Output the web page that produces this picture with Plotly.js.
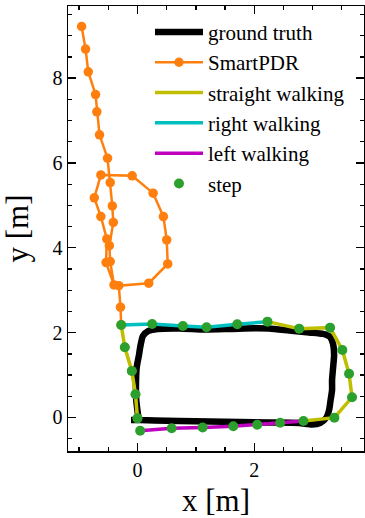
<!DOCTYPE html>
<html>
<head>
<meta charset="utf-8">
<script src="https://cdn.plot.ly/plotly-3.0.1.min.js"></script>
<style>html,body{margin:0;padding:0;background:#fff;}#chart{width:365px;height:518px;}</style>
</head>
<body>
<div id="chart"></div>
<script>
// Ground truth trajectory (m)
var gtX = [0.017, -0.021, -0.026, -0.012, 0.026, 0.051, 0.094, 0.188, 0.342, 0.718, 1.145, 1.573, 2.000, 2.256, 2.598, 2.940, 3.179, 3.299, 3.350, 3.368, 3.350, 3.333, 3.333, 3.308, 3.282, 3.231, 3.128, 2.991, 2.769, 2.256, 1.744, 1.231, 0.718, 0.291, 0.034, -0.111];
var gtY = [-0.012, 0.413, 0.767, 1.191, 1.474, 1.686, 1.922, 2.040, 2.087, 2.099, 2.075, 2.087, 2.104, 2.099, 2.052, 2.005, 1.969, 1.899, 1.733, 1.474, 1.167, 0.884, 0.649, 0.413, 0.177, -0.012, -0.130, -0.165, -0.130, -0.118, -0.106, -0.094, -0.083, -0.071, -0.059, -0.059];

// SmartPDR trajectory (m)
var pdrX = [0.0, -0.034, -0.097, -0.217, -0.279, -0.291, -0.320, 0.193, 0.518, 0.501, 0.444, 0.268, -0.091, -0.627, -0.740, -0.627, -0.525, -0.538, -0.402, -0.467, -0.482, -0.414, -0.431, -0.467, -0.513, -0.650, -0.696, -0.718, -0.843, -0.889, -0.957];
var pdrY = [-0.020, 0.547, 1.097, 1.656, 2.182, 2.599, 3.108, 3.165, 3.620, 4.186, 4.736, 5.288, 5.696, 5.719, 5.177, 4.736, 4.210, 3.651, 3.125, 3.675, 4.050, 4.599, 4.988, 5.538, 6.113, 6.663, 7.205, 7.613, 8.149, 8.684, 9.217];

// Detected steps (m)
var stepX = [0.0, -0.034, -0.097, -0.217, -0.279, 0.251, 0.778, 1.183, 1.709, 2.227, 2.769, 3.299, 3.509, 3.624, 3.675, 3.373, 2.843, 2.444, 2.051, 1.641, 1.116, 0.586, 0.046];
var stepY = [-0.020, 0.547, 1.097, 1.656, 2.182, 2.205, 2.158, 2.127, 2.198, 2.259, 2.094, 2.118, 1.592, 1.033, 0.476, -0.005, -0.083, -0.123, -0.170, -0.208, -0.236, -0.252, -0.311];
// Walking mode of each segment between consecutive steps
var segMode = ['straight','straight','straight','straight',
               'right','right','right','right','right',
               'straight','straight','straight','straight','straight','straight','straight',
               'left','left','left','left','left','left'];

var modes = ['straight', 'right', 'left'];
var modeNames = {straight: 'straight walking', right: 'right walking', left: 'left walking'};
var modeColors = {straight: '#bfbf00', right: '#00bfbf', left: '#bf00bf'};

var FONT = 'Liberation Serif, Times New Roman, serif';

function segTrace(mode) {
  var xs = [], ys = [];
  for (var i = 0; i < segMode.length; i++) {
    if (segMode[i] !== mode) continue;
    if (!(xs.length && xs[xs.length - 1] === stepX[i] && ys[ys.length - 1] === stepY[i])) {
      if (xs.length) { xs.push(null); ys.push(null); }
      xs.push(stepX[i]); ys.push(stepY[i]);
    }
    xs.push(stepX[i + 1]); ys.push(stepY[i + 1]);
  }
  return {x: xs, y: ys, mode: 'lines', name: modeNames[mode], connectgaps: false,
          line: {color: modeColors[mode], width: 3.5}, hoverinfo: 'skip'};
}

var traces = [
  {x: gtX, y: gtY, mode: 'lines', name: 'ground truth', line: {color: '#000000', width: 6.5, shape: 'spline', smoothing: 0.6}},
  {x: pdrX, y: pdrY, mode: 'lines+markers', name: 'SmartPDR', line: {color: '#ff7f0e', width: 2.5}, marker: {color: '#ff7f0e', size: 9.5}}
];
modes.forEach(function (m) { traces.push(segTrace(m)); });
traces.push({x: stepX, y: stepY, mode: 'markers', name: 'step', marker: {color: '#2ca02c', size: 10}});

var axisBase = {
  showgrid: false, zeroline: false, showline: true, linecolor: '#000', linewidth: 1.5,
  mirror: 'allticks', ticks: 'inside', ticklen: 8, tickwidth: 1.3, tickcolor: '#000',
  dtick: 2, tick0: 0,
  minor: {dtick: 0.5, ticks: 'inside', ticklen: 4, tickwidth: 1.3, tickcolor: '#000', showgrid: false},
  tickfont: {family: FONT, size: 20, color: '#000'}
};

var layout = {
  width: 365, height: 518,
  margin: {l: 68, r: 1, t: 6, b: 67, pad: 0},
  paper_bgcolor: '#fff', plot_bgcolor: '#fff',
  showlegend: true,
  legend: {x: 0.277, y: 0.987, xanchor: 'left', yanchor: 'top', bgcolor: 'rgba(0,0,0,0)', borderwidth: 0,
           font: {family: FONT, size: 21, color: '#000'}, itemwidth: 48},
  xaxis: Object.assign({}, axisBase, {range: [-1.19, 3.88], title: {text: 'x [m]', font: {family: FONT, size: 31, color: '#000'}, standoff: 19}}),
  yaxis: Object.assign({}, axisBase, {range: [-0.79, 9.70], title: {text: 'y [m]', font: {family: FONT, size: 31, color: '#000'}, standoff: 18}})
};

Plotly.newPlot('chart', traces, layout, {staticPlot: true, displayModeBar: false});
</script>
</body>
</html>
